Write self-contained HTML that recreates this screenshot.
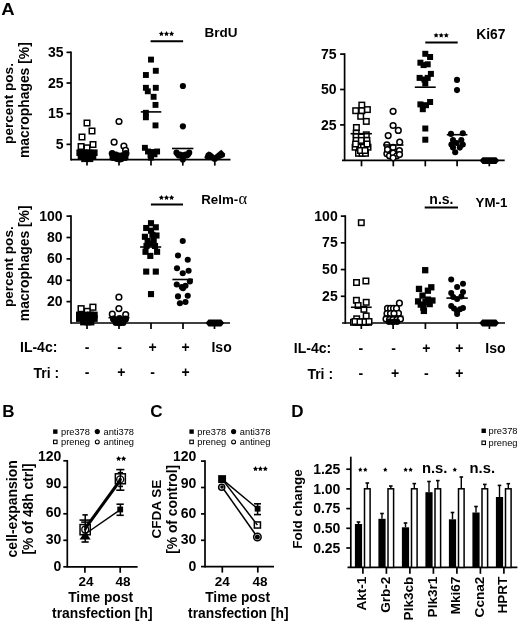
<!DOCTYPE html>
<html><head><meta charset="utf-8"><style>
html,body{margin:0;padding:0;background:#fff;}
svg{display:block;font-family:"Liberation Sans",sans-serif;will-change:transform;}
</style></head><body>
<svg width="520" height="624" viewBox="0 0 520 624">
<rect width="520" height="624" fill="#fff"/>
<text x="0" y="0" font-size="17" font-weight="bold" transform="translate(1.3 15.3) scale(1.09 1)">A</text>
<text x="2.20" y="417.30" font-size="17" font-weight="bold" text-anchor="start">B</text>
<text x="150.20" y="417.30" font-size="17" font-weight="bold" text-anchor="start">C</text>
<text x="291.30" y="416.80" font-size="17" font-weight="bold" text-anchor="start">D</text>
<line x1="71.00" y1="51.55" x2="71.00" y2="160.40" stroke="#000" stroke-width="1.7" stroke-linecap="butt"/>
<line x1="66.50" y1="52.35" x2="71.00" y2="52.35" stroke="#000" stroke-width="1.7" stroke-linecap="butt"/>
<text x="63.60" y="56.95" font-size="14" font-weight="bold" text-anchor="end">35</text>
<line x1="66.50" y1="83.02" x2="71.00" y2="83.02" stroke="#000" stroke-width="1.7" stroke-linecap="butt"/>
<text x="63.60" y="87.62" font-size="14" font-weight="bold" text-anchor="end">25</text>
<line x1="66.50" y1="113.69" x2="71.00" y2="113.69" stroke="#000" stroke-width="1.7" stroke-linecap="butt"/>
<text x="63.60" y="118.29" font-size="14" font-weight="bold" text-anchor="end">15</text>
<line x1="66.50" y1="144.36" x2="71.00" y2="144.36" stroke="#000" stroke-width="1.7" stroke-linecap="butt"/>
<text x="63.60" y="148.96" font-size="14" font-weight="bold" text-anchor="end">5</text>
<line x1="71.00" y1="159.60" x2="230.50" y2="159.60" stroke="#000" stroke-width="1.7" stroke-linecap="butt"/>
<line x1="87.00" y1="159.60" x2="87.00" y2="165.60" stroke="#000" stroke-width="1.7" stroke-linecap="butt"/>
<line x1="119.00" y1="159.60" x2="119.00" y2="165.60" stroke="#000" stroke-width="1.7" stroke-linecap="butt"/>
<line x1="151.00" y1="159.60" x2="151.00" y2="165.60" stroke="#000" stroke-width="1.7" stroke-linecap="butt"/>
<line x1="182.80" y1="159.60" x2="182.80" y2="165.60" stroke="#000" stroke-width="1.7" stroke-linecap="butt"/>
<line x1="214.80" y1="159.60" x2="214.80" y2="165.60" stroke="#000" stroke-width="1.7" stroke-linecap="butt"/>
<line x1="150.60" y1="41.20" x2="183.10" y2="41.20" stroke="#000" stroke-width="2.0" stroke-linecap="butt"/>
<polygon points="161.40,31.11 162.19,32.72 163.97,32.98 162.68,34.23 162.99,35.99 161.40,35.16 159.81,35.99 160.12,34.23 158.83,32.98 160.61,32.72" fill="#000"/>
<polygon points="166.50,31.11 167.29,32.72 169.07,32.98 167.78,34.23 168.09,35.99 166.50,35.16 164.91,35.99 165.22,34.23 163.93,32.98 165.71,32.72" fill="#000"/>
<polygon points="171.60,31.11 172.39,32.72 174.17,32.98 172.88,34.23 173.19,35.99 171.60,35.16 170.01,35.99 170.32,34.23 169.03,32.98 170.81,32.72" fill="#000"/>
<text x="204.60" y="37.30" font-size="13.5" font-weight="bold" text-anchor="start">BrdU</text>
<text x="12.90" y="103.50" font-size="13.6" font-weight="bold" text-anchor="middle" transform="rotate(-90 12.90 103.50)">percent pos.</text>
<text x="29.00" y="100.10" font-size="13.9" font-weight="bold" text-anchor="middle" transform="rotate(-90 29.00 100.10)">macrophages [%]</text>
<rect x="84.25" y="120.25" width="5.50" height="5.50" fill="#fff" stroke="#000" stroke-width="1.5"/>
<rect x="89.25" y="128.25" width="5.50" height="5.50" fill="#fff" stroke="#000" stroke-width="1.5"/>
<rect x="79.25" y="134.25" width="5.50" height="5.50" fill="#fff" stroke="#000" stroke-width="1.5"/>
<rect x="78.35" y="143.75" width="5.50" height="5.50" fill="#fff" stroke="#000" stroke-width="1.5"/>
<rect x="90.25" y="141.75" width="5.50" height="5.50" fill="#fff" stroke="#000" stroke-width="1.5"/>
<rect x="84.25" y="145.05" width="5.50" height="5.50" fill="#fff" stroke="#000" stroke-width="1.5"/>
<rect x="76.40" y="149.40" width="6.60" height="6.60" fill="#000"/>
<rect x="80.70" y="149.40" width="6.60" height="6.60" fill="#000"/>
<rect x="85.70" y="149.40" width="6.60" height="6.60" fill="#000"/>
<rect x="91.00" y="149.40" width="6.60" height="6.60" fill="#000"/>
<rect x="77.70" y="152.70" width="6.60" height="6.60" fill="#000"/>
<rect x="83.70" y="152.70" width="6.60" height="6.60" fill="#000"/>
<rect x="89.70" y="152.70" width="6.60" height="6.60" fill="#000"/>
<rect x="81.20" y="155.50" width="6.60" height="6.60" fill="#000"/>
<rect x="86.70" y="155.50" width="6.60" height="6.60" fill="#000"/>
<circle cx="119.00" cy="121.50" r="2.85" fill="#fff" stroke="#000" stroke-width="1.5"/>
<circle cx="114.10" cy="142.20" r="2.85" fill="#fff" stroke="#000" stroke-width="1.5"/>
<circle cx="123.90" cy="146.10" r="2.85" fill="#fff" stroke="#000" stroke-width="1.5"/>
<circle cx="125.60" cy="150.30" r="2.85" fill="#fff" stroke="#000" stroke-width="1.5"/>
<circle cx="112.20" cy="153.60" r="3.50" fill="#000"/>
<circle cx="116.00" cy="155.00" r="3.50" fill="#000"/>
<circle cx="120.00" cy="156.00" r="3.50" fill="#000"/>
<circle cx="124.00" cy="155.00" r="3.50" fill="#000"/>
<circle cx="126.00" cy="153.50" r="3.50" fill="#000"/>
<circle cx="113.00" cy="157.50" r="3.50" fill="#000"/>
<circle cx="117.00" cy="158.50" r="3.50" fill="#000"/>
<circle cx="121.00" cy="158.80" r="3.50" fill="#000"/>
<circle cx="125.00" cy="157.50" r="3.50" fill="#000"/>
<circle cx="119.50" cy="159.00" r="3.50" fill="#000"/>
<rect x="148.05" y="56.65" width="5.90" height="5.90" fill="#000"/>
<rect x="152.85" y="67.85" width="5.90" height="5.90" fill="#000"/>
<rect x="142.95" y="72.05" width="5.90" height="5.90" fill="#000"/>
<rect x="142.95" y="84.85" width="5.90" height="5.90" fill="#000"/>
<rect x="152.85" y="84.85" width="5.90" height="5.90" fill="#000"/>
<rect x="144.85" y="88.35" width="5.90" height="5.90" fill="#000"/>
<rect x="150.65" y="93.85" width="5.90" height="5.90" fill="#000"/>
<rect x="152.55" y="101.95" width="5.90" height="5.90" fill="#000"/>
<rect x="142.95" y="109.85" width="5.90" height="5.90" fill="#000"/>
<rect x="142.95" y="114.35" width="5.90" height="5.90" fill="#000"/>
<rect x="152.55" y="122.45" width="5.90" height="5.90" fill="#000"/>
<rect x="141.95" y="144.85" width="5.90" height="5.90" fill="#000"/>
<rect x="145.05" y="148.55" width="5.90" height="5.90" fill="#000"/>
<rect x="149.05" y="149.05" width="5.90" height="5.90" fill="#000"/>
<rect x="154.15" y="148.55" width="5.90" height="5.90" fill="#000"/>
<rect x="147.55" y="152.25" width="5.90" height="5.90" fill="#000"/>
<rect x="151.55" y="151.35" width="5.90" height="5.90" fill="#000"/>
<rect x="148.05" y="154.65" width="5.90" height="5.90" fill="#000"/>
<line x1="140.80" y1="111.90" x2="161.30" y2="111.90" stroke="#000" stroke-width="1.6" stroke-linecap="butt"/>
<circle cx="182.90" cy="86.00" r="3.10" fill="#000"/>
<circle cx="182.90" cy="126.30" r="3.10" fill="#000"/>
<circle cx="176.50" cy="152.70" r="3.10" fill="#000"/>
<circle cx="189.20" cy="152.70" r="3.10" fill="#000"/>
<circle cx="179.00" cy="155.50" r="3.10" fill="#000"/>
<circle cx="186.50" cy="155.50" r="3.10" fill="#000"/>
<circle cx="182.80" cy="157.30" r="3.10" fill="#000"/>
<circle cx="182.80" cy="159.50" r="3.10" fill="#000"/>
<circle cx="178.00" cy="154.50" r="3.10" fill="#000"/>
<circle cx="188.00" cy="154.50" r="3.10" fill="#000"/>
<circle cx="182.80" cy="155.30" r="3.10" fill="#000"/>
<circle cx="180.00" cy="154.60" r="3.10" fill="#000"/>
<circle cx="185.60" cy="154.60" r="3.10" fill="#000"/>
<line x1="172.00" y1="148.50" x2="193.40" y2="148.50" stroke="#000" stroke-width="1.6" stroke-linecap="butt"/>
<polygon points="204.30,157.50 206.00,153.30 208.50,151.60 211.00,152.30 214.50,155.20 219.00,151.60 221.30,149.80 225.20,153.80 224.80,156.80 218.50,159.80 216.30,161.80 213.00,161.80 211.00,159.80 206.00,159.60" fill="#000"/>
<line x1="344.60" y1="53.30" x2="344.60" y2="161.10" stroke="#000" stroke-width="1.7" stroke-linecap="butt"/>
<line x1="340.10" y1="54.10" x2="344.60" y2="54.10" stroke="#000" stroke-width="1.7" stroke-linecap="butt"/>
<text x="336.60" y="58.70" font-size="14" font-weight="bold" text-anchor="end">75</text>
<line x1="340.10" y1="89.50" x2="344.60" y2="89.50" stroke="#000" stroke-width="1.7" stroke-linecap="butt"/>
<text x="336.60" y="94.10" font-size="14" font-weight="bold" text-anchor="end">50</text>
<line x1="340.10" y1="124.90" x2="344.60" y2="124.90" stroke="#000" stroke-width="1.7" stroke-linecap="butt"/>
<text x="336.60" y="129.50" font-size="14" font-weight="bold" text-anchor="end">25</text>
<line x1="342.00" y1="160.30" x2="504.70" y2="160.30" stroke="#000" stroke-width="1.7" stroke-linecap="butt"/>
<line x1="361.50" y1="160.30" x2="361.50" y2="166.30" stroke="#000" stroke-width="1.7" stroke-linecap="butt"/>
<line x1="393.30" y1="160.30" x2="393.30" y2="166.30" stroke="#000" stroke-width="1.7" stroke-linecap="butt"/>
<line x1="425.30" y1="160.30" x2="425.30" y2="166.30" stroke="#000" stroke-width="1.7" stroke-linecap="butt"/>
<line x1="457.10" y1="160.30" x2="457.10" y2="166.30" stroke="#000" stroke-width="1.7" stroke-linecap="butt"/>
<line x1="489.30" y1="160.30" x2="489.30" y2="166.30" stroke="#000" stroke-width="1.7" stroke-linecap="butt"/>
<line x1="425.30" y1="42.40" x2="457.70" y2="42.40" stroke="#000" stroke-width="2.0" stroke-linecap="butt"/>
<polygon points="436.10,32.71 436.89,34.32 438.67,34.58 437.38,35.83 437.69,37.59 436.10,36.76 434.51,37.59 434.82,35.83 433.53,34.58 435.31,34.32" fill="#000"/>
<polygon points="441.20,32.71 441.99,34.32 443.77,34.58 442.48,35.83 442.79,37.59 441.20,36.76 439.61,37.59 439.92,35.83 438.63,34.58 440.41,34.32" fill="#000"/>
<polygon points="446.30,32.71 447.09,34.32 448.87,34.58 447.58,35.83 447.89,37.59 446.30,36.76 444.71,37.59 445.02,35.83 443.73,34.58 445.51,34.32" fill="#000"/>
<text x="476.20" y="39.20" font-size="13.8" font-weight="bold" text-anchor="start">Ki67</text>
<rect x="359.05" y="102.35" width="5.50" height="5.50" fill="#fff" stroke="#000" stroke-width="1.5"/>
<rect x="352.95" y="107.95" width="5.50" height="5.50" fill="#fff" stroke="#000" stroke-width="1.5"/>
<rect x="359.05" y="107.95" width="5.50" height="5.50" fill="#fff" stroke="#000" stroke-width="1.5"/>
<rect x="364.65" y="106.85" width="5.50" height="5.50" fill="#fff" stroke="#000" stroke-width="1.5"/>
<rect x="357.95" y="113.55" width="5.50" height="5.50" fill="#fff" stroke="#000" stroke-width="1.5"/>
<rect x="363.55" y="118.65" width="5.50" height="5.50" fill="#fff" stroke="#000" stroke-width="1.5"/>
<rect x="353.65" y="124.75" width="5.50" height="5.50" fill="#fff" stroke="#000" stroke-width="1.5"/>
<rect x="353.45" y="130.45" width="5.50" height="5.50" fill="#fff" stroke="#000" stroke-width="1.5"/>
<rect x="363.55" y="132.05" width="5.50" height="5.50" fill="#fff" stroke="#000" stroke-width="1.5"/>
<rect x="353.45" y="133.75" width="5.50" height="5.50" fill="#fff" stroke="#000" stroke-width="1.5"/>
<rect x="358.55" y="134.25" width="5.50" height="5.50" fill="#fff" stroke="#000" stroke-width="1.5"/>
<rect x="353.45" y="137.65" width="5.50" height="5.50" fill="#fff" stroke="#000" stroke-width="1.5"/>
<rect x="358.55" y="137.65" width="5.50" height="5.50" fill="#fff" stroke="#000" stroke-width="1.5"/>
<rect x="364.15" y="137.65" width="5.50" height="5.50" fill="#fff" stroke="#000" stroke-width="1.5"/>
<rect x="352.35" y="144.45" width="5.50" height="5.50" fill="#fff" stroke="#000" stroke-width="1.5"/>
<rect x="356.85" y="144.45" width="5.50" height="5.50" fill="#fff" stroke="#000" stroke-width="1.5"/>
<rect x="360.75" y="144.45" width="5.50" height="5.50" fill="#fff" stroke="#000" stroke-width="1.5"/>
<rect x="365.25" y="144.45" width="5.50" height="5.50" fill="#fff" stroke="#000" stroke-width="1.5"/>
<rect x="352.85" y="141.25" width="5.50" height="5.50" fill="#fff" stroke="#000" stroke-width="1.5"/>
<rect x="364.25" y="141.25" width="5.50" height="5.50" fill="#fff" stroke="#000" stroke-width="1.5"/>
<rect x="355.75" y="150.55" width="5.50" height="5.50" fill="#fff" stroke="#000" stroke-width="1.5"/>
<rect x="359.25" y="150.55" width="5.50" height="5.50" fill="#fff" stroke="#000" stroke-width="1.5"/>
<rect x="362.75" y="150.55" width="5.50" height="5.50" fill="#fff" stroke="#000" stroke-width="1.5"/>
<rect x="357.75" y="147.75" width="5.50" height="5.50" fill="#fff" stroke="#000" stroke-width="1.5"/>
<rect x="362.25" y="147.75" width="5.50" height="5.50" fill="#fff" stroke="#000" stroke-width="1.5"/>
<line x1="350.60" y1="133.70" x2="371.90" y2="133.70" stroke="#000" stroke-width="1.6" stroke-linecap="butt"/>
<circle cx="393.10" cy="111.30" r="2.85" fill="#fff" stroke="#000" stroke-width="1.5"/>
<circle cx="393.10" cy="125.50" r="2.85" fill="#fff" stroke="#000" stroke-width="1.5"/>
<circle cx="398.30" cy="130.40" r="2.85" fill="#fff" stroke="#000" stroke-width="1.5"/>
<circle cx="388.20" cy="135.60" r="2.85" fill="#fff" stroke="#000" stroke-width="1.5"/>
<circle cx="399.70" cy="142.20" r="2.85" fill="#fff" stroke="#000" stroke-width="1.5"/>
<circle cx="386.90" cy="144.80" r="2.85" fill="#fff" stroke="#000" stroke-width="1.5"/>
<circle cx="393.10" cy="147.40" r="2.85" fill="#fff" stroke="#000" stroke-width="1.5"/>
<circle cx="399.40" cy="150.60" r="2.85" fill="#fff" stroke="#000" stroke-width="1.5"/>
<circle cx="386.90" cy="153.70" r="2.85" fill="#fff" stroke="#000" stroke-width="1.5"/>
<circle cx="389.50" cy="155.80" r="2.85" fill="#fff" stroke="#000" stroke-width="1.5"/>
<circle cx="393.10" cy="153.20" r="2.85" fill="#fff" stroke="#000" stroke-width="1.5"/>
<circle cx="396.80" cy="155.80" r="2.85" fill="#fff" stroke="#000" stroke-width="1.5"/>
<circle cx="393.10" cy="157.80" r="2.85" fill="#fff" stroke="#000" stroke-width="1.5"/>
<circle cx="399.50" cy="154.50" r="2.85" fill="#fff" stroke="#000" stroke-width="1.5"/>
<circle cx="387.50" cy="149.50" r="2.85" fill="#fff" stroke="#000" stroke-width="1.5"/>
<line x1="383.20" y1="145.00" x2="403.50" y2="145.00" stroke="#000" stroke-width="1.6" stroke-linecap="butt"/>
<rect x="422.30" y="50.80" width="6.00" height="6.00" fill="#000"/>
<rect x="427.10" y="54.00" width="6.00" height="6.00" fill="#000"/>
<rect x="417.40" y="59.70" width="6.00" height="6.00" fill="#000"/>
<rect x="420.60" y="62.10" width="6.00" height="6.00" fill="#000"/>
<rect x="424.70" y="61.30" width="6.00" height="6.00" fill="#000"/>
<rect x="427.90" y="70.90" width="6.00" height="6.00" fill="#000"/>
<rect x="416.60" y="74.90" width="6.00" height="6.00" fill="#000"/>
<rect x="421.40" y="76.50" width="6.00" height="6.00" fill="#000"/>
<rect x="424.70" y="74.90" width="6.00" height="6.00" fill="#000"/>
<rect x="422.30" y="80.50" width="6.00" height="6.00" fill="#000"/>
<rect x="427.10" y="99.00" width="6.00" height="6.00" fill="#000"/>
<rect x="417.40" y="101.40" width="6.00" height="6.00" fill="#000"/>
<rect x="423.00" y="102.20" width="6.00" height="6.00" fill="#000"/>
<rect x="419.80" y="106.20" width="6.00" height="6.00" fill="#000"/>
<rect x="422.30" y="125.50" width="6.00" height="6.00" fill="#000"/>
<rect x="422.30" y="136.70" width="6.00" height="6.00" fill="#000"/>
<line x1="414.80" y1="87.20" x2="435.70" y2="87.20" stroke="#000" stroke-width="1.6" stroke-linecap="butt"/>
<circle cx="457.00" cy="79.90" r="3.05" fill="#000"/>
<circle cx="457.00" cy="90.10" r="3.05" fill="#000"/>
<circle cx="451.00" cy="133.90" r="3.05" fill="#000"/>
<circle cx="462.80" cy="133.20" r="3.05" fill="#000"/>
<circle cx="453.00" cy="140.00" r="3.05" fill="#000"/>
<circle cx="461.30" cy="140.00" r="3.05" fill="#000"/>
<circle cx="451.40" cy="144.60" r="3.05" fill="#000"/>
<circle cx="456.70" cy="143.00" r="3.05" fill="#000"/>
<circle cx="462.80" cy="144.60" r="3.05" fill="#000"/>
<circle cx="453.00" cy="147.60" r="3.05" fill="#000"/>
<circle cx="459.80" cy="147.60" r="3.05" fill="#000"/>
<circle cx="455.20" cy="152.20" r="3.05" fill="#000"/>
<line x1="446.80" y1="134.70" x2="467.40" y2="134.70" stroke="#000" stroke-width="1.6" stroke-linecap="butt"/>
<polygon points="479.60,160.60 482.50,157.20 496.30,157.20 499.20,160.60 496.30,164.00 482.50,164.00" fill="#000"/>
<line x1="71.00" y1="215.32" x2="71.00" y2="323.80" stroke="#000" stroke-width="1.7" stroke-linecap="butt"/>
<line x1="66.50" y1="216.12" x2="71.00" y2="216.12" stroke="#000" stroke-width="1.7" stroke-linecap="butt"/>
<text x="62.60" y="220.72" font-size="14" font-weight="bold" text-anchor="end">100</text>
<line x1="66.50" y1="237.50" x2="71.00" y2="237.50" stroke="#000" stroke-width="1.7" stroke-linecap="butt"/>
<text x="62.60" y="242.10" font-size="14" font-weight="bold" text-anchor="end">80</text>
<line x1="66.50" y1="258.87" x2="71.00" y2="258.87" stroke="#000" stroke-width="1.7" stroke-linecap="butt"/>
<text x="62.60" y="263.47" font-size="14" font-weight="bold" text-anchor="end">60</text>
<line x1="66.50" y1="280.25" x2="71.00" y2="280.25" stroke="#000" stroke-width="1.7" stroke-linecap="butt"/>
<text x="62.60" y="284.85" font-size="14" font-weight="bold" text-anchor="end">40</text>
<line x1="66.50" y1="301.62" x2="71.00" y2="301.62" stroke="#000" stroke-width="1.7" stroke-linecap="butt"/>
<text x="62.60" y="306.22" font-size="14" font-weight="bold" text-anchor="end">20</text>
<line x1="71.00" y1="323.00" x2="230.00" y2="323.00" stroke="#000" stroke-width="1.7" stroke-linecap="butt"/>
<line x1="87.00" y1="323.00" x2="87.00" y2="329.00" stroke="#000" stroke-width="1.7" stroke-linecap="butt"/>
<line x1="119.00" y1="323.00" x2="119.00" y2="329.00" stroke="#000" stroke-width="1.7" stroke-linecap="butt"/>
<line x1="151.00" y1="323.00" x2="151.00" y2="329.00" stroke="#000" stroke-width="1.7" stroke-linecap="butt"/>
<line x1="183.00" y1="323.00" x2="183.00" y2="329.00" stroke="#000" stroke-width="1.7" stroke-linecap="butt"/>
<line x1="214.50" y1="323.00" x2="214.50" y2="329.00" stroke="#000" stroke-width="1.7" stroke-linecap="butt"/>
<line x1="150.90" y1="204.40" x2="183.00" y2="204.40" stroke="#000" stroke-width="2.0" stroke-linecap="butt"/>
<polygon points="161.40,195.01 162.19,196.62 163.97,196.88 162.68,198.13 162.99,199.89 161.40,199.06 159.81,199.89 160.12,198.13 158.83,196.88 160.61,196.62" fill="#000"/>
<polygon points="166.50,195.01 167.29,196.62 169.07,196.88 167.78,198.13 168.09,199.89 166.50,199.06 164.91,199.89 165.22,198.13 163.93,196.88 165.71,196.62" fill="#000"/>
<polygon points="171.60,195.01 172.39,196.62 174.17,196.88 172.88,198.13 173.19,199.89 171.60,199.06 170.01,199.89 170.32,198.13 169.03,196.88 170.81,196.62" fill="#000"/>
<text x="201.20" y="204.20" font-size="13.3" font-weight="bold" text-anchor="start">Relm-<tspan font-family="Liberation Serif" font-weight="normal" font-size="16.5" dx="0.3">&#945;</tspan></text>
<text x="12.90" y="266.70" font-size="13.6" font-weight="bold" text-anchor="middle" transform="rotate(-90 12.90 266.70)">percent pos.</text>
<text x="29.00" y="263.30" font-size="13.9" font-weight="bold" text-anchor="middle" transform="rotate(-90 29.00 263.30)">macrophages [%]</text>
<rect x="78.25" y="305.85" width="5.70" height="5.70" fill="#fff" stroke="#000" stroke-width="1.5"/>
<rect x="90.05" y="304.35" width="5.70" height="5.70" fill="#fff" stroke="#000" stroke-width="1.5"/>
<rect x="84.35" y="308.55" width="5.70" height="5.70" fill="#fff" stroke="#000" stroke-width="1.5"/>
<rect x="76.00" y="311.60" width="6.80" height="6.80" fill="#000"/>
<rect x="81.60" y="311.60" width="6.80" height="6.80" fill="#000"/>
<rect x="87.10" y="311.60" width="6.80" height="6.80" fill="#000"/>
<rect x="90.90" y="311.60" width="6.80" height="6.80" fill="#000"/>
<rect x="76.00" y="315.10" width="6.80" height="6.80" fill="#000"/>
<rect x="81.60" y="315.60" width="6.80" height="6.80" fill="#000"/>
<rect x="87.10" y="315.60" width="6.80" height="6.80" fill="#000"/>
<rect x="90.90" y="315.10" width="6.80" height="6.80" fill="#000"/>
<rect x="80.10" y="318.60" width="6.80" height="6.80" fill="#000"/>
<rect x="84.60" y="318.60" width="6.80" height="6.80" fill="#000"/>
<rect x="87.60" y="318.60" width="6.80" height="6.80" fill="#000"/>
<circle cx="118.90" cy="297.20" r="2.85" fill="#fff" stroke="#000" stroke-width="1.5"/>
<circle cx="118.90" cy="308.60" r="2.85" fill="#fff" stroke="#000" stroke-width="1.5"/>
<circle cx="112.30" cy="314.20" r="2.85" fill="#fff" stroke="#000" stroke-width="1.5"/>
<circle cx="125.70" cy="314.70" r="2.85" fill="#fff" stroke="#000" stroke-width="1.5"/>
<circle cx="113.50" cy="319.00" r="3.50" fill="#000"/>
<circle cx="117.00" cy="320.00" r="3.50" fill="#000"/>
<circle cx="121.00" cy="320.00" r="3.50" fill="#000"/>
<circle cx="125.50" cy="319.00" r="3.50" fill="#000"/>
<circle cx="116.00" cy="322.50" r="3.50" fill="#000"/>
<circle cx="119.50" cy="322.80" r="3.50" fill="#000"/>
<circle cx="123.00" cy="322.50" r="3.50" fill="#000"/>
<circle cx="119.50" cy="318.50" r="3.50" fill="#000"/>
<line x1="108.50" y1="317.70" x2="129.50" y2="317.70" stroke="#000" stroke-width="1.6" stroke-linecap="butt"/>
<rect x="147.95" y="220.15" width="6.10" height="6.10" fill="#000"/>
<rect x="143.15" y="224.95" width="6.10" height="6.10" fill="#000"/>
<rect x="152.75" y="224.25" width="6.10" height="6.10" fill="#000"/>
<rect x="147.95" y="227.65" width="6.10" height="6.10" fill="#000"/>
<rect x="141.85" y="233.75" width="6.10" height="6.10" fill="#000"/>
<rect x="153.45" y="232.45" width="6.10" height="6.10" fill="#000"/>
<rect x="149.35" y="231.75" width="6.10" height="6.10" fill="#000"/>
<rect x="144.55" y="237.85" width="6.10" height="6.10" fill="#000"/>
<rect x="150.65" y="237.15" width="6.10" height="6.10" fill="#000"/>
<rect x="146.55" y="240.55" width="6.10" height="6.10" fill="#000"/>
<rect x="142.45" y="248.75" width="6.10" height="6.10" fill="#000"/>
<rect x="154.05" y="248.75" width="6.10" height="6.10" fill="#000"/>
<rect x="147.25" y="252.85" width="6.10" height="6.10" fill="#000"/>
<rect x="143.15" y="268.55" width="6.10" height="6.10" fill="#000"/>
<rect x="152.75" y="268.55" width="6.10" height="6.10" fill="#000"/>
<rect x="147.95" y="291.05" width="6.10" height="6.10" fill="#000"/>
<rect x="143.45" y="242.95" width="6.10" height="6.10" fill="#000"/>
<rect x="151.95" y="242.95" width="6.10" height="6.10" fill="#000"/>
<line x1="140.10" y1="247.00" x2="161.20" y2="247.00" stroke="#000" stroke-width="1.6" stroke-linecap="butt"/>
<circle cx="182.75" cy="241.00" r="3.05" fill="#000"/>
<circle cx="178.00" cy="255.50" r="3.05" fill="#000"/>
<circle cx="187.75" cy="259.75" r="3.05" fill="#000"/>
<circle cx="177.00" cy="268.25" r="3.05" fill="#000"/>
<circle cx="188.60" cy="270.75" r="3.05" fill="#000"/>
<circle cx="182.75" cy="273.25" r="3.05" fill="#000"/>
<circle cx="189.90" cy="281.40" r="3.05" fill="#000"/>
<circle cx="176.75" cy="284.50" r="3.05" fill="#000"/>
<circle cx="181.75" cy="287.00" r="3.05" fill="#000"/>
<circle cx="185.50" cy="285.75" r="3.05" fill="#000"/>
<circle cx="183.00" cy="288.25" r="3.05" fill="#000"/>
<circle cx="178.00" cy="296.40" r="3.05" fill="#000"/>
<circle cx="187.75" cy="295.75" r="3.05" fill="#000"/>
<circle cx="179.90" cy="303.25" r="3.05" fill="#000"/>
<circle cx="185.50" cy="302.00" r="3.05" fill="#000"/>
<line x1="172.40" y1="279.50" x2="193.00" y2="279.50" stroke="#000" stroke-width="1.6" stroke-linecap="butt"/>
<polygon points="205.60,323.00 208.50,319.60 221.30,319.60 224.20,323.00 221.30,326.40 208.50,326.40" fill="#000"/>
<line x1="345.30" y1="215.32" x2="345.30" y2="323.80" stroke="#000" stroke-width="1.7" stroke-linecap="butt"/>
<line x1="340.80" y1="216.12" x2="345.30" y2="216.12" stroke="#000" stroke-width="1.7" stroke-linecap="butt"/>
<text x="337.70" y="220.72" font-size="14" font-weight="bold" text-anchor="end">100</text>
<line x1="340.80" y1="242.84" x2="345.30" y2="242.84" stroke="#000" stroke-width="1.7" stroke-linecap="butt"/>
<text x="337.70" y="247.44" font-size="14" font-weight="bold" text-anchor="end">75</text>
<line x1="340.80" y1="269.56" x2="345.30" y2="269.56" stroke="#000" stroke-width="1.7" stroke-linecap="butt"/>
<text x="337.70" y="274.16" font-size="14" font-weight="bold" text-anchor="end">50</text>
<line x1="340.80" y1="296.28" x2="345.30" y2="296.28" stroke="#000" stroke-width="1.7" stroke-linecap="butt"/>
<text x="337.70" y="300.88" font-size="14" font-weight="bold" text-anchor="end">25</text>
<line x1="342.00" y1="323.00" x2="505.00" y2="323.00" stroke="#000" stroke-width="1.7" stroke-linecap="butt"/>
<line x1="361.30" y1="323.00" x2="361.30" y2="329.00" stroke="#000" stroke-width="1.7" stroke-linecap="butt"/>
<line x1="393.10" y1="323.00" x2="393.10" y2="329.00" stroke="#000" stroke-width="1.7" stroke-linecap="butt"/>
<line x1="425.40" y1="323.00" x2="425.40" y2="329.00" stroke="#000" stroke-width="1.7" stroke-linecap="butt"/>
<line x1="457.20" y1="323.00" x2="457.20" y2="329.00" stroke="#000" stroke-width="1.7" stroke-linecap="butt"/>
<line x1="489.40" y1="323.00" x2="489.40" y2="329.00" stroke="#000" stroke-width="1.7" stroke-linecap="butt"/>
<line x1="424.70" y1="207.40" x2="458.00" y2="207.40" stroke="#000" stroke-width="2.0" stroke-linecap="butt"/>
<text x="441.40" y="204.00" font-size="14" font-weight="bold" text-anchor="middle">n.s.</text>
<text x="475.60" y="207.40" font-size="13.3" font-weight="bold" text-anchor="start">YM-1</text>
<rect x="358.55" y="219.95" width="5.50" height="5.50" fill="#fff" stroke="#000" stroke-width="1.5"/>
<rect x="353.75" y="279.75" width="5.50" height="5.50" fill="#fff" stroke="#000" stroke-width="1.5"/>
<rect x="363.15" y="278.25" width="5.50" height="5.50" fill="#fff" stroke="#000" stroke-width="1.5"/>
<rect x="353.65" y="297.55" width="5.50" height="5.50" fill="#fff" stroke="#000" stroke-width="1.5"/>
<rect x="355.35" y="302.75" width="5.50" height="5.50" fill="#fff" stroke="#000" stroke-width="1.5"/>
<rect x="363.45" y="299.55" width="5.50" height="5.50" fill="#fff" stroke="#000" stroke-width="1.5"/>
<rect x="361.15" y="306.55" width="5.50" height="5.50" fill="#fff" stroke="#000" stroke-width="1.5"/>
<rect x="363.45" y="313.15" width="5.50" height="5.50" fill="#fff" stroke="#000" stroke-width="1.5"/>
<rect x="353.95" y="316.05" width="5.50" height="5.50" fill="#fff" stroke="#000" stroke-width="1.5"/>
<rect x="350.75" y="319.55" width="5.50" height="5.50" fill="#fff" stroke="#000" stroke-width="1.5"/>
<rect x="353.25" y="319.55" width="5.50" height="5.50" fill="#fff" stroke="#000" stroke-width="1.5"/>
<rect x="355.75" y="319.55" width="5.50" height="5.50" fill="#fff" stroke="#000" stroke-width="1.5"/>
<rect x="358.25" y="319.55" width="5.50" height="5.50" fill="#fff" stroke="#000" stroke-width="1.5"/>
<rect x="360.75" y="319.55" width="5.50" height="5.50" fill="#fff" stroke="#000" stroke-width="1.5"/>
<rect x="363.25" y="319.55" width="5.50" height="5.50" fill="#fff" stroke="#000" stroke-width="1.5"/>
<rect x="365.75" y="319.55" width="5.50" height="5.50" fill="#fff" stroke="#000" stroke-width="1.5"/>
<rect x="352.25" y="318.75" width="5.50" height="5.50" fill="#fff" stroke="#000" stroke-width="1.5"/>
<rect x="357.25" y="319.05" width="5.50" height="5.50" fill="#fff" stroke="#000" stroke-width="1.5"/>
<rect x="362.25" y="319.05" width="5.50" height="5.50" fill="#fff" stroke="#000" stroke-width="1.5"/>
<rect x="366.25" y="318.75" width="5.50" height="5.50" fill="#fff" stroke="#000" stroke-width="1.5"/>
<line x1="350.90" y1="307.25" x2="371.70" y2="307.25" stroke="#000" stroke-width="1.6" stroke-linecap="butt"/>
<circle cx="399.40" cy="303.20" r="2.85" fill="#fff" stroke="#000" stroke-width="1.5"/>
<circle cx="387.50" cy="308.40" r="2.85" fill="#fff" stroke="#000" stroke-width="1.5"/>
<circle cx="390.50" cy="308.40" r="2.85" fill="#fff" stroke="#000" stroke-width="1.5"/>
<circle cx="393.50" cy="308.40" r="2.85" fill="#fff" stroke="#000" stroke-width="1.5"/>
<circle cx="396.50" cy="308.40" r="2.85" fill="#fff" stroke="#000" stroke-width="1.5"/>
<circle cx="398.50" cy="313.30" r="2.85" fill="#fff" stroke="#000" stroke-width="1.5"/>
<circle cx="387.00" cy="313.50" r="2.85" fill="#fff" stroke="#000" stroke-width="1.5"/>
<circle cx="390.50" cy="313.50" r="2.85" fill="#fff" stroke="#000" stroke-width="1.5"/>
<circle cx="394.00" cy="313.50" r="2.85" fill="#fff" stroke="#000" stroke-width="1.5"/>
<circle cx="386.00" cy="319.00" r="2.85" fill="#fff" stroke="#000" stroke-width="1.5"/>
<circle cx="389.50" cy="319.50" r="2.85" fill="#fff" stroke="#000" stroke-width="1.5"/>
<circle cx="393.00" cy="319.50" r="2.85" fill="#fff" stroke="#000" stroke-width="1.5"/>
<circle cx="397.00" cy="319.50" r="2.85" fill="#fff" stroke="#000" stroke-width="1.5"/>
<circle cx="400.50" cy="319.00" r="2.85" fill="#fff" stroke="#000" stroke-width="1.5"/>
<circle cx="389.00" cy="321.80" r="3.20" fill="#000"/>
<circle cx="393.00" cy="322.00" r="3.20" fill="#000"/>
<circle cx="397.00" cy="321.80" r="3.20" fill="#000"/>
<line x1="383.50" y1="316.20" x2="403.40" y2="316.20" stroke="#000" stroke-width="1.6" stroke-linecap="butt"/>
<rect x="422.05" y="267.05" width="6.30" height="6.30" fill="#000"/>
<rect x="415.85" y="285.75" width="6.30" height="6.30" fill="#000"/>
<rect x="428.15" y="284.15" width="6.30" height="6.30" fill="#000"/>
<rect x="424.75" y="287.55" width="6.30" height="6.30" fill="#000"/>
<rect x="419.35" y="292.45" width="6.30" height="6.30" fill="#000"/>
<rect x="414.95" y="298.25" width="6.30" height="6.30" fill="#000"/>
<rect x="429.25" y="297.35" width="6.30" height="6.30" fill="#000"/>
<rect x="424.75" y="296.45" width="6.30" height="6.30" fill="#000"/>
<rect x="417.65" y="301.45" width="6.30" height="6.30" fill="#000"/>
<rect x="426.55" y="300.95" width="6.30" height="6.30" fill="#000"/>
<rect x="420.25" y="304.55" width="6.30" height="6.30" fill="#000"/>
<rect x="420.75" y="307.75" width="6.30" height="6.30" fill="#000"/>
<rect x="422.35" y="298.85" width="6.30" height="6.30" fill="#000"/>
<circle cx="451.20" cy="279.50" r="3.00" fill="#000"/>
<circle cx="463.00" cy="283.80" r="3.00" fill="#000"/>
<circle cx="457.10" cy="287.00" r="3.00" fill="#000"/>
<circle cx="451.20" cy="292.90" r="3.00" fill="#000"/>
<circle cx="463.00" cy="292.10" r="3.00" fill="#000"/>
<circle cx="453.20" cy="296.90" r="3.00" fill="#000"/>
<circle cx="457.10" cy="298.90" r="3.00" fill="#000"/>
<circle cx="461.30" cy="296.50" r="3.00" fill="#000"/>
<circle cx="451.20" cy="306.10" r="3.00" fill="#000"/>
<circle cx="454.00" cy="308.50" r="3.00" fill="#000"/>
<circle cx="463.00" cy="308.10" r="3.00" fill="#000"/>
<circle cx="460.00" cy="309.30" r="3.00" fill="#000"/>
<circle cx="457.10" cy="311.30" r="3.00" fill="#000"/>
<circle cx="457.10" cy="314.00" r="3.00" fill="#000"/>
<line x1="446.40" y1="298.10" x2="467.80" y2="298.10" stroke="#000" stroke-width="1.6" stroke-linecap="butt"/>
<polygon points="479.30,323.00 482.20,319.60 496.20,319.60 499.10,323.00 496.20,326.40 482.20,326.40" fill="#000"/>
<text x="20.00" y="352.20" font-size="14" font-weight="bold" text-anchor="start">IL-4c:</text>
<text x="33.60" y="377.60" font-size="14" font-weight="bold" text-anchor="start">Tri :</text>
<text x="87.00" y="352.20" font-size="14" font-weight="bold" text-anchor="middle">-</text>
<text x="119.70" y="352.20" font-size="14" font-weight="bold" text-anchor="middle">-</text>
<text x="152.50" y="352.20" font-size="14" font-weight="bold" text-anchor="middle">+</text>
<text x="185.50" y="352.20" font-size="14" font-weight="bold" text-anchor="middle">+</text>
<text x="221.60" y="352.20" font-size="14" font-weight="bold" text-anchor="middle">Iso</text>
<text x="87.00" y="376.60" font-size="14" font-weight="bold" text-anchor="middle">-</text>
<text x="121.30" y="376.60" font-size="14" font-weight="bold" text-anchor="middle">+</text>
<text x="152.50" y="376.60" font-size="14" font-weight="bold" text-anchor="middle">-</text>
<text x="185.50" y="376.60" font-size="14" font-weight="bold" text-anchor="middle">+</text>
<text x="293.80" y="353.30" font-size="14" font-weight="bold" text-anchor="start">IL-4c:</text>
<text x="307.40" y="379.00" font-size="14" font-weight="bold" text-anchor="start">Tri :</text>
<text x="360.80" y="353.30" font-size="14" font-weight="bold" text-anchor="middle">-</text>
<text x="393.50" y="353.30" font-size="14" font-weight="bold" text-anchor="middle">-</text>
<text x="426.30" y="353.30" font-size="14" font-weight="bold" text-anchor="middle">+</text>
<text x="459.30" y="353.30" font-size="14" font-weight="bold" text-anchor="middle">+</text>
<text x="495.40" y="353.30" font-size="14" font-weight="bold" text-anchor="middle">Iso</text>
<text x="360.80" y="378.00" font-size="14" font-weight="bold" text-anchor="middle">-</text>
<text x="395.10" y="378.00" font-size="14" font-weight="bold" text-anchor="middle">+</text>
<text x="426.30" y="378.00" font-size="14" font-weight="bold" text-anchor="middle">-</text>
<text x="459.30" y="378.00" font-size="14" font-weight="bold" text-anchor="middle">+</text>
<line x1="67.30" y1="460.00" x2="67.30" y2="567.60" stroke="#000" stroke-width="1.7" stroke-linecap="butt"/>
<line x1="63.30" y1="460.80" x2="67.30" y2="460.80" stroke="#000" stroke-width="1.7" stroke-linecap="butt"/>
<text x="61.30" y="461.10" font-size="14" font-weight="bold" text-anchor="end">120</text>
<line x1="63.30" y1="487.30" x2="67.30" y2="487.30" stroke="#000" stroke-width="1.7" stroke-linecap="butt"/>
<text x="61.30" y="488.30" font-size="14" font-weight="bold" text-anchor="end">90</text>
<line x1="63.30" y1="513.80" x2="67.30" y2="513.80" stroke="#000" stroke-width="1.7" stroke-linecap="butt"/>
<text x="61.30" y="517.00" font-size="14" font-weight="bold" text-anchor="end">60</text>
<line x1="63.30" y1="540.30" x2="67.30" y2="540.30" stroke="#000" stroke-width="1.7" stroke-linecap="butt"/>
<text x="61.30" y="543.70" font-size="14" font-weight="bold" text-anchor="end">30</text>
<line x1="63.30" y1="566.80" x2="67.30" y2="566.80" stroke="#000" stroke-width="1.7" stroke-linecap="butt"/>
<text x="61.30" y="571.20" font-size="14" font-weight="bold" text-anchor="end">0</text>
<line x1="67.30" y1="566.80" x2="137.60" y2="566.80" stroke="#000" stroke-width="1.7" stroke-linecap="butt"/>
<line x1="84.90" y1="566.80" x2="84.90" y2="572.80" stroke="#000" stroke-width="1.7" stroke-linecap="butt"/>
<line x1="120.20" y1="566.80" x2="120.20" y2="572.80" stroke="#000" stroke-width="1.7" stroke-linecap="butt"/>
<text x="86.10" y="586.20" font-size="13.5" font-weight="bold" text-anchor="middle">24</text>
<text x="123.00" y="586.20" font-size="13.5" font-weight="bold" text-anchor="middle">48</text>
<text x="100.60" y="602.30" font-size="13.8" font-weight="bold" text-anchor="middle">Time post</text>
<text x="102.30" y="618.40" font-size="13.8" font-weight="bold" text-anchor="middle">transfection [h]</text>
<text x="16.70" y="508.80" font-size="14.0" font-weight="bold" text-anchor="middle" transform="rotate(-90 16.70 508.80)">cell-expansion</text>
<text x="33.20" y="509.00" font-size="13.8" font-weight="bold" text-anchor="middle" transform="rotate(-90 33.20 509.00)">[% of 48h ctrl]</text>
<polygon points="118.60,456.01 119.39,457.62 121.17,457.88 119.88,459.13 120.19,460.89 118.60,460.06 117.01,460.89 117.32,459.13 116.03,457.88 117.81,457.62" fill="#000"/>
<polygon points="123.60,456.01 124.39,457.62 126.17,457.88 124.88,459.13 125.19,460.89 123.60,460.06 122.01,460.89 122.32,459.13 121.03,457.88 122.81,457.62" fill="#000"/>
<rect x="53.10" y="429.40" width="4.40" height="4.40" fill="#000"/>
<text x="61.00" y="434.80" font-size="9.3" font-weight="normal" text-anchor="start">pre378</text>
<circle cx="97.30" cy="431.60" r="2.60" fill="#000"/>
<text x="103.50" y="434.80" font-size="9.3" font-weight="normal" text-anchor="start">anti378</text>
<rect x="53.55" y="440.15" width="3.50" height="3.50" fill="#fff" stroke="#000" stroke-width="1.1"/>
<text x="61.00" y="445.00" font-size="9.3" font-weight="normal" text-anchor="start">preneg</text>
<circle cx="97.30" cy="441.90" r="1.95" fill="#fff" stroke="#000" stroke-width="1.1"/>
<text x="103.50" y="445.00" font-size="9.3" font-weight="normal" text-anchor="start">antineg</text>
<rect x="189.40" y="429.40" width="4.40" height="4.40" fill="#000"/>
<text x="197.30" y="434.80" font-size="9.3" font-weight="normal" text-anchor="start">pre378</text>
<circle cx="233.60" cy="431.60" r="2.60" fill="#000"/>
<text x="239.80" y="434.80" font-size="9.3" font-weight="normal" text-anchor="start">anti378</text>
<rect x="189.85" y="440.15" width="3.50" height="3.50" fill="#fff" stroke="#000" stroke-width="1.1"/>
<text x="197.30" y="445.00" font-size="9.3" font-weight="normal" text-anchor="start">preneg</text>
<circle cx="233.60" cy="441.90" r="1.95" fill="#fff" stroke="#000" stroke-width="1.1"/>
<text x="239.80" y="445.00" font-size="9.3" font-weight="normal" text-anchor="start">antineg</text>
<line x1="85.20" y1="528.50" x2="120.40" y2="480.00" stroke="#000" stroke-width="3.0" stroke-linecap="butt"/>
<line x1="85.20" y1="534.00" x2="120.40" y2="509.70" stroke="#000" stroke-width="1.4" stroke-linecap="butt"/>
<line x1="85.20" y1="514.90" x2="85.20" y2="542.00" stroke="#000" stroke-width="1.5" stroke-linecap="butt"/>
<line x1="82.40" y1="514.90" x2="87.80" y2="514.90" stroke="#000" stroke-width="1.6" stroke-linecap="butt"/>
<line x1="79.50" y1="520.10" x2="90.10" y2="520.10" stroke="#000" stroke-width="1.6" stroke-linecap="butt"/>
<line x1="81.20" y1="522.10" x2="88.70" y2="522.10" stroke="#000" stroke-width="1.6" stroke-linecap="butt"/>
<line x1="81.50" y1="542.00" x2="88.70" y2="542.00" stroke="#000" stroke-width="1.6" stroke-linecap="butt"/>
<rect x="80.05" y="524.55" width="10.20" height="10.20" fill="none" stroke="#000" stroke-width="1.5"/>
<circle cx="85.2" cy="529.5" r="3.4" fill="none" stroke="#000" stroke-width="1.3"/>
<circle cx="85.20" cy="529.50" r="1.30" fill="#000"/>
<rect x="82.40" y="533.50" width="5.60" height="5.60" fill="#000"/>
<polygon points="79.50,539.60 90.70,539.60 87.40,534.50 83.00,534.50" fill="#000"/>
<line x1="120.40" y1="469.60" x2="120.40" y2="490.20" stroke="#000" stroke-width="1.5" stroke-linecap="butt"/>
<line x1="116.25" y1="469.60" x2="124.40" y2="469.60" stroke="#000" stroke-width="1.6" stroke-linecap="butt"/>
<line x1="117.80" y1="472.70" x2="123.00" y2="472.70" stroke="#000" stroke-width="1.6" stroke-linecap="butt"/>
<line x1="118.20" y1="486.40" x2="123.00" y2="486.40" stroke="#000" stroke-width="1.6" stroke-linecap="butt"/>
<line x1="116.25" y1="490.20" x2="124.40" y2="490.20" stroke="#000" stroke-width="1.6" stroke-linecap="butt"/>
<rect x="115.35" y="473.80" width="10.00" height="10.00" fill="none" stroke="#000" stroke-width="1.5"/>
<circle cx="120.2" cy="479.4" r="3.5" fill="none" stroke="#000" stroke-width="1.4"/>
<circle cx="120.20" cy="479.40" r="1.60" fill="#000"/>
<line x1="120.40" y1="504.20" x2="120.40" y2="515.30" stroke="#000" stroke-width="1.5" stroke-linecap="butt"/>
<line x1="116.50" y1="504.20" x2="123.75" y2="504.20" stroke="#000" stroke-width="1.6" stroke-linecap="butt"/>
<line x1="116.50" y1="515.30" x2="123.75" y2="515.30" stroke="#000" stroke-width="1.6" stroke-linecap="butt"/>
<rect x="117.30" y="506.60" width="5.80" height="5.80" fill="#000"/>
<line x1="205.00" y1="460.30" x2="205.00" y2="567.40" stroke="#000" stroke-width="1.7" stroke-linecap="butt"/>
<line x1="201.00" y1="461.10" x2="205.00" y2="461.10" stroke="#000" stroke-width="1.7" stroke-linecap="butt"/>
<text x="196.30" y="460.80" font-size="14" font-weight="bold" text-anchor="end">120</text>
<line x1="201.00" y1="487.50" x2="205.00" y2="487.50" stroke="#000" stroke-width="1.7" stroke-linecap="butt"/>
<text x="196.30" y="488.30" font-size="14" font-weight="bold" text-anchor="end">90</text>
<line x1="201.00" y1="513.90" x2="205.00" y2="513.90" stroke="#000" stroke-width="1.7" stroke-linecap="butt"/>
<text x="196.30" y="517.80" font-size="14" font-weight="bold" text-anchor="end">60</text>
<line x1="201.00" y1="540.30" x2="205.00" y2="540.30" stroke="#000" stroke-width="1.7" stroke-linecap="butt"/>
<text x="196.30" y="544.10" font-size="14" font-weight="bold" text-anchor="end">30</text>
<line x1="201.00" y1="566.60" x2="205.00" y2="566.60" stroke="#000" stroke-width="1.7" stroke-linecap="butt"/>
<text x="196.30" y="571.30" font-size="14" font-weight="bold" text-anchor="end">0</text>
<line x1="205.00" y1="566.60" x2="274.00" y2="566.60" stroke="#000" stroke-width="1.7" stroke-linecap="butt"/>
<line x1="222.30" y1="566.60" x2="222.30" y2="572.60" stroke="#000" stroke-width="1.7" stroke-linecap="butt"/>
<line x1="257.80" y1="566.60" x2="257.80" y2="572.60" stroke="#000" stroke-width="1.7" stroke-linecap="butt"/>
<text x="222.30" y="586.20" font-size="13.5" font-weight="bold" text-anchor="middle">24</text>
<text x="260.10" y="586.20" font-size="13.5" font-weight="bold" text-anchor="middle">48</text>
<text x="237.60" y="602.30" font-size="13.8" font-weight="bold" text-anchor="middle">Time post</text>
<text x="238.30" y="618.40" font-size="13.8" font-weight="bold" text-anchor="middle">transfection [h]</text>
<text x="161.40" y="509.20" font-size="13.5" font-weight="bold" text-anchor="middle" transform="rotate(-90 161.40 509.20)">CFDA SE</text>
<text x="176.90" y="509.30" font-size="13.8" font-weight="bold" text-anchor="middle" transform="rotate(-90 176.90 509.30)">[% of control]</text>
<polygon points="255.50,466.11 256.29,467.72 258.07,467.98 256.78,469.23 257.09,470.99 255.50,470.16 253.91,470.99 254.22,469.23 252.93,467.98 254.71,467.72" fill="#000"/>
<polygon points="260.40,466.11 261.19,467.72 262.97,467.98 261.68,469.23 261.99,470.99 260.40,470.16 258.81,470.99 259.12,469.23 257.83,467.98 259.61,467.72" fill="#000"/>
<polygon points="265.30,466.11 266.09,467.72 267.87,467.98 266.58,469.23 266.89,470.99 265.30,470.16 263.71,470.99 264.02,469.23 262.73,467.98 264.51,467.72" fill="#000"/>
<line x1="222.30" y1="479.40" x2="257.60" y2="508.70" stroke="#000" stroke-width="1.5" stroke-linecap="butt"/>
<line x1="222.30" y1="479.40" x2="257.40" y2="525.00" stroke="#000" stroke-width="1.5" stroke-linecap="butt"/>
<line x1="221.90" y1="486.70" x2="257.40" y2="537.10" stroke="#000" stroke-width="1.5" stroke-linecap="butt"/>
<rect x="218.15" y="475.15" width="7.90" height="7.90" fill="#000"/>
<circle cx="221.70" cy="487.30" r="3.05" fill="#fff" stroke="#000" stroke-width="1.5"/>
<circle cx="222.00" cy="487.00" r="1.80" fill="#000"/>
<line x1="257.60" y1="503.80" x2="257.60" y2="514.60" stroke="#000" stroke-width="1.5" stroke-linecap="butt"/>
<line x1="254.00" y1="503.80" x2="261.00" y2="503.80" stroke="#000" stroke-width="1.6" stroke-linecap="butt"/>
<line x1="254.00" y1="514.60" x2="261.00" y2="514.60" stroke="#000" stroke-width="1.6" stroke-linecap="butt"/>
<rect x="254.70" y="505.80" width="5.80" height="5.80" fill="#000"/>
<rect x="254.35" y="521.95" width="6.10" height="6.10" fill="#fff" stroke="#000" stroke-width="1.5"/>
<line x1="255.50" y1="522.60" x2="257.40" y2="525.00" stroke="#000" stroke-width="1.4" stroke-linecap="butt"/>
<circle cx="257.40" cy="537.00" r="3.75" fill="#fff" stroke="#000" stroke-width="1.5"/>
<circle cx="257.40" cy="537.00" r="2.50" fill="#000"/>
<line x1="350.80" y1="456.70" x2="350.80" y2="567.70" stroke="#000" stroke-width="1.7" stroke-linecap="butt"/>
<line x1="346.30" y1="469.20" x2="350.80" y2="469.20" stroke="#000" stroke-width="1.7" stroke-linecap="butt"/>
<text x="340.40" y="473.80" font-size="14" font-weight="bold" text-anchor="end">1.25</text>
<line x1="346.30" y1="488.90" x2="350.80" y2="488.90" stroke="#000" stroke-width="1.7" stroke-linecap="butt"/>
<text x="340.40" y="493.50" font-size="14" font-weight="bold" text-anchor="end">1.00</text>
<line x1="346.30" y1="508.60" x2="350.80" y2="508.60" stroke="#000" stroke-width="1.7" stroke-linecap="butt"/>
<text x="340.40" y="513.20" font-size="14" font-weight="bold" text-anchor="end">0.75</text>
<line x1="346.30" y1="528.30" x2="350.80" y2="528.30" stroke="#000" stroke-width="1.7" stroke-linecap="butt"/>
<text x="340.40" y="532.90" font-size="14" font-weight="bold" text-anchor="end">0.50</text>
<line x1="346.30" y1="548.00" x2="350.80" y2="548.00" stroke="#000" stroke-width="1.7" stroke-linecap="butt"/>
<text x="340.40" y="552.60" font-size="14" font-weight="bold" text-anchor="end">0.25</text>
<line x1="347.50" y1="567.40" x2="517.40" y2="567.40" stroke="#000" stroke-width="1.7" stroke-linecap="butt"/>
<text x="302.00" y="509.00" font-size="13.5" font-weight="bold" text-anchor="middle" transform="rotate(-90 302.00 509.00)">Fold change</text>
<rect x="354.90" y="524.00" width="7.2" height="43.40" fill="#000"/>
<line x1="358.50" y1="522.00" x2="358.50" y2="524.00" stroke="#000" stroke-width="1.4" stroke-linecap="butt"/>
<line x1="356.70" y1="522.00" x2="360.30" y2="522.00" stroke="#000" stroke-width="1.6" stroke-linecap="butt"/>
<rect x="364.50" y="488.80" width="5.6" height="78.60" fill="#fff" stroke="#000" stroke-width="1.5"/>
<line x1="367.30" y1="483.00" x2="367.30" y2="488.80" stroke="#000" stroke-width="1.4" stroke-linecap="butt"/>
<line x1="365.50" y1="483.00" x2="369.10" y2="483.00" stroke="#000" stroke-width="1.6" stroke-linecap="butt"/>
<line x1="362.90" y1="567.40" x2="362.90" y2="573.80" stroke="#000" stroke-width="1.7" stroke-linecap="butt"/>
<text x="366.10" y="576.60" font-size="13.6" font-weight="bold" text-anchor="end" transform="rotate(-90 366.10 576.60)">Akt-1</text>
<rect x="378.40" y="518.80" width="7.2" height="48.60" fill="#000"/>
<line x1="382.00" y1="513.50" x2="382.00" y2="518.80" stroke="#000" stroke-width="1.4" stroke-linecap="butt"/>
<line x1="380.20" y1="513.50" x2="383.80" y2="513.50" stroke="#000" stroke-width="1.6" stroke-linecap="butt"/>
<rect x="388.00" y="488.80" width="5.6" height="78.60" fill="#fff" stroke="#000" stroke-width="1.5"/>
<line x1="390.80" y1="486.00" x2="390.80" y2="488.80" stroke="#000" stroke-width="1.4" stroke-linecap="butt"/>
<line x1="389.00" y1="486.00" x2="392.60" y2="486.00" stroke="#000" stroke-width="1.6" stroke-linecap="butt"/>
<line x1="386.40" y1="567.40" x2="386.40" y2="573.80" stroke="#000" stroke-width="1.7" stroke-linecap="butt"/>
<text x="389.60" y="576.60" font-size="13.6" font-weight="bold" text-anchor="end" transform="rotate(-90 389.60 576.60)">Grb-2</text>
<rect x="401.90" y="527.30" width="7.2" height="40.10" fill="#000"/>
<line x1="405.50" y1="523.00" x2="405.50" y2="527.30" stroke="#000" stroke-width="1.4" stroke-linecap="butt"/>
<line x1="403.70" y1="523.00" x2="407.30" y2="523.00" stroke="#000" stroke-width="1.6" stroke-linecap="butt"/>
<rect x="411.50" y="488.80" width="5.6" height="78.60" fill="#fff" stroke="#000" stroke-width="1.5"/>
<line x1="414.30" y1="483.60" x2="414.30" y2="488.80" stroke="#000" stroke-width="1.4" stroke-linecap="butt"/>
<line x1="412.50" y1="483.60" x2="416.10" y2="483.60" stroke="#000" stroke-width="1.6" stroke-linecap="butt"/>
<line x1="409.90" y1="567.40" x2="409.90" y2="573.80" stroke="#000" stroke-width="1.7" stroke-linecap="butt"/>
<text x="413.10" y="576.60" font-size="13.6" font-weight="bold" text-anchor="end" transform="rotate(-90 413.10 576.60)">Plk3cb</text>
<rect x="425.40" y="492.20" width="7.2" height="75.20" fill="#000"/>
<line x1="429.00" y1="481.50" x2="429.00" y2="492.20" stroke="#000" stroke-width="1.4" stroke-linecap="butt"/>
<line x1="427.20" y1="481.50" x2="430.80" y2="481.50" stroke="#000" stroke-width="1.6" stroke-linecap="butt"/>
<rect x="435.00" y="488.80" width="5.6" height="78.60" fill="#fff" stroke="#000" stroke-width="1.5"/>
<line x1="437.80" y1="480.60" x2="437.80" y2="488.80" stroke="#000" stroke-width="1.4" stroke-linecap="butt"/>
<line x1="436.00" y1="480.60" x2="439.60" y2="480.60" stroke="#000" stroke-width="1.6" stroke-linecap="butt"/>
<line x1="433.40" y1="567.40" x2="433.40" y2="573.80" stroke="#000" stroke-width="1.7" stroke-linecap="butt"/>
<text x="436.60" y="576.60" font-size="13.6" font-weight="bold" text-anchor="end" transform="rotate(-90 436.60 576.60)">Plk3r1</text>
<rect x="448.90" y="519.30" width="7.2" height="48.10" fill="#000"/>
<line x1="452.50" y1="512.50" x2="452.50" y2="519.30" stroke="#000" stroke-width="1.4" stroke-linecap="butt"/>
<line x1="450.70" y1="512.50" x2="454.30" y2="512.50" stroke="#000" stroke-width="1.6" stroke-linecap="butt"/>
<rect x="458.50" y="488.80" width="5.6" height="78.60" fill="#fff" stroke="#000" stroke-width="1.5"/>
<line x1="461.30" y1="477.00" x2="461.30" y2="488.80" stroke="#000" stroke-width="1.4" stroke-linecap="butt"/>
<line x1="459.50" y1="477.00" x2="463.10" y2="477.00" stroke="#000" stroke-width="1.6" stroke-linecap="butt"/>
<line x1="456.90" y1="567.40" x2="456.90" y2="573.80" stroke="#000" stroke-width="1.7" stroke-linecap="butt"/>
<text x="460.10" y="576.60" font-size="13.6" font-weight="bold" text-anchor="end" transform="rotate(-90 460.10 576.60)">Mki67</text>
<rect x="472.40" y="512.50" width="7.2" height="54.90" fill="#000"/>
<line x1="476.00" y1="506.50" x2="476.00" y2="512.50" stroke="#000" stroke-width="1.4" stroke-linecap="butt"/>
<line x1="474.20" y1="506.50" x2="477.80" y2="506.50" stroke="#000" stroke-width="1.6" stroke-linecap="butt"/>
<rect x="482.00" y="488.80" width="5.6" height="78.60" fill="#fff" stroke="#000" stroke-width="1.5"/>
<line x1="484.80" y1="484.40" x2="484.80" y2="488.80" stroke="#000" stroke-width="1.4" stroke-linecap="butt"/>
<line x1="483.00" y1="484.40" x2="486.60" y2="484.40" stroke="#000" stroke-width="1.6" stroke-linecap="butt"/>
<line x1="480.40" y1="567.40" x2="480.40" y2="573.80" stroke="#000" stroke-width="1.7" stroke-linecap="butt"/>
<text x="483.60" y="576.60" font-size="13.6" font-weight="bold" text-anchor="end" transform="rotate(-90 483.60 576.60)">Ccna2</text>
<rect x="495.90" y="497.00" width="7.2" height="70.40" fill="#000"/>
<line x1="499.50" y1="485.40" x2="499.50" y2="497.00" stroke="#000" stroke-width="1.4" stroke-linecap="butt"/>
<line x1="497.70" y1="485.40" x2="501.30" y2="485.40" stroke="#000" stroke-width="1.6" stroke-linecap="butt"/>
<rect x="505.50" y="488.80" width="5.6" height="78.60" fill="#fff" stroke="#000" stroke-width="1.5"/>
<line x1="508.30" y1="483.70" x2="508.30" y2="488.80" stroke="#000" stroke-width="1.4" stroke-linecap="butt"/>
<line x1="506.50" y1="483.70" x2="510.10" y2="483.70" stroke="#000" stroke-width="1.6" stroke-linecap="butt"/>
<line x1="503.90" y1="567.40" x2="503.90" y2="573.80" stroke="#000" stroke-width="1.7" stroke-linecap="butt"/>
<text x="507.10" y="576.60" font-size="13.6" font-weight="bold" text-anchor="end" transform="rotate(-90 507.10 576.60)">HPRT</text>
<text x="434.70" y="473.30" font-size="14.8" font-weight="bold" text-anchor="middle">n.s.</text>
<text x="482.30" y="473.30" font-size="14.8" font-weight="bold" text-anchor="middle">n.s.</text>
<polygon points="360.30,467.32 361.01,468.75 362.58,468.98 361.44,470.09 361.71,471.66 360.30,470.92 358.89,471.66 359.16,470.09 358.02,468.98 359.59,468.75" fill="#000"/>
<polygon points="365.30,467.32 366.01,468.75 367.58,468.98 366.44,470.09 366.71,471.66 365.30,470.92 363.89,471.66 364.16,470.09 363.02,468.98 364.59,468.75" fill="#000"/>
<polygon points="385.30,467.32 386.01,468.75 387.58,468.98 386.44,470.09 386.71,471.66 385.30,470.92 383.89,471.66 384.16,470.09 383.02,468.98 384.59,468.75" fill="#000"/>
<polygon points="405.60,467.32 406.31,468.75 407.88,468.98 406.74,470.09 407.01,471.66 405.60,470.92 404.19,471.66 404.46,470.09 403.32,468.98 404.89,468.75" fill="#000"/>
<polygon points="410.60,467.32 411.31,468.75 412.88,468.98 411.74,470.09 412.01,471.66 410.60,470.92 409.19,471.66 409.46,470.09 408.32,468.98 409.89,468.75" fill="#000"/>
<polygon points="454.80,467.32 455.51,468.75 457.08,468.98 455.94,470.09 456.21,471.66 454.80,470.92 453.39,471.66 453.66,470.09 452.52,468.98 454.09,468.75" fill="#000"/>
<rect x="481.50" y="428.60" width="4.40" height="4.40" fill="#000"/>
<text x="488.60" y="434.00" font-size="9.3" font-weight="normal" text-anchor="start">pre378</text>
<rect x="481.95" y="441.05" width="3.50" height="3.50" fill="#fff" stroke="#000" stroke-width="1.1"/>
<text x="488.60" y="445.90" font-size="9.3" font-weight="normal" text-anchor="start">preneg</text>
</svg></body></html>
